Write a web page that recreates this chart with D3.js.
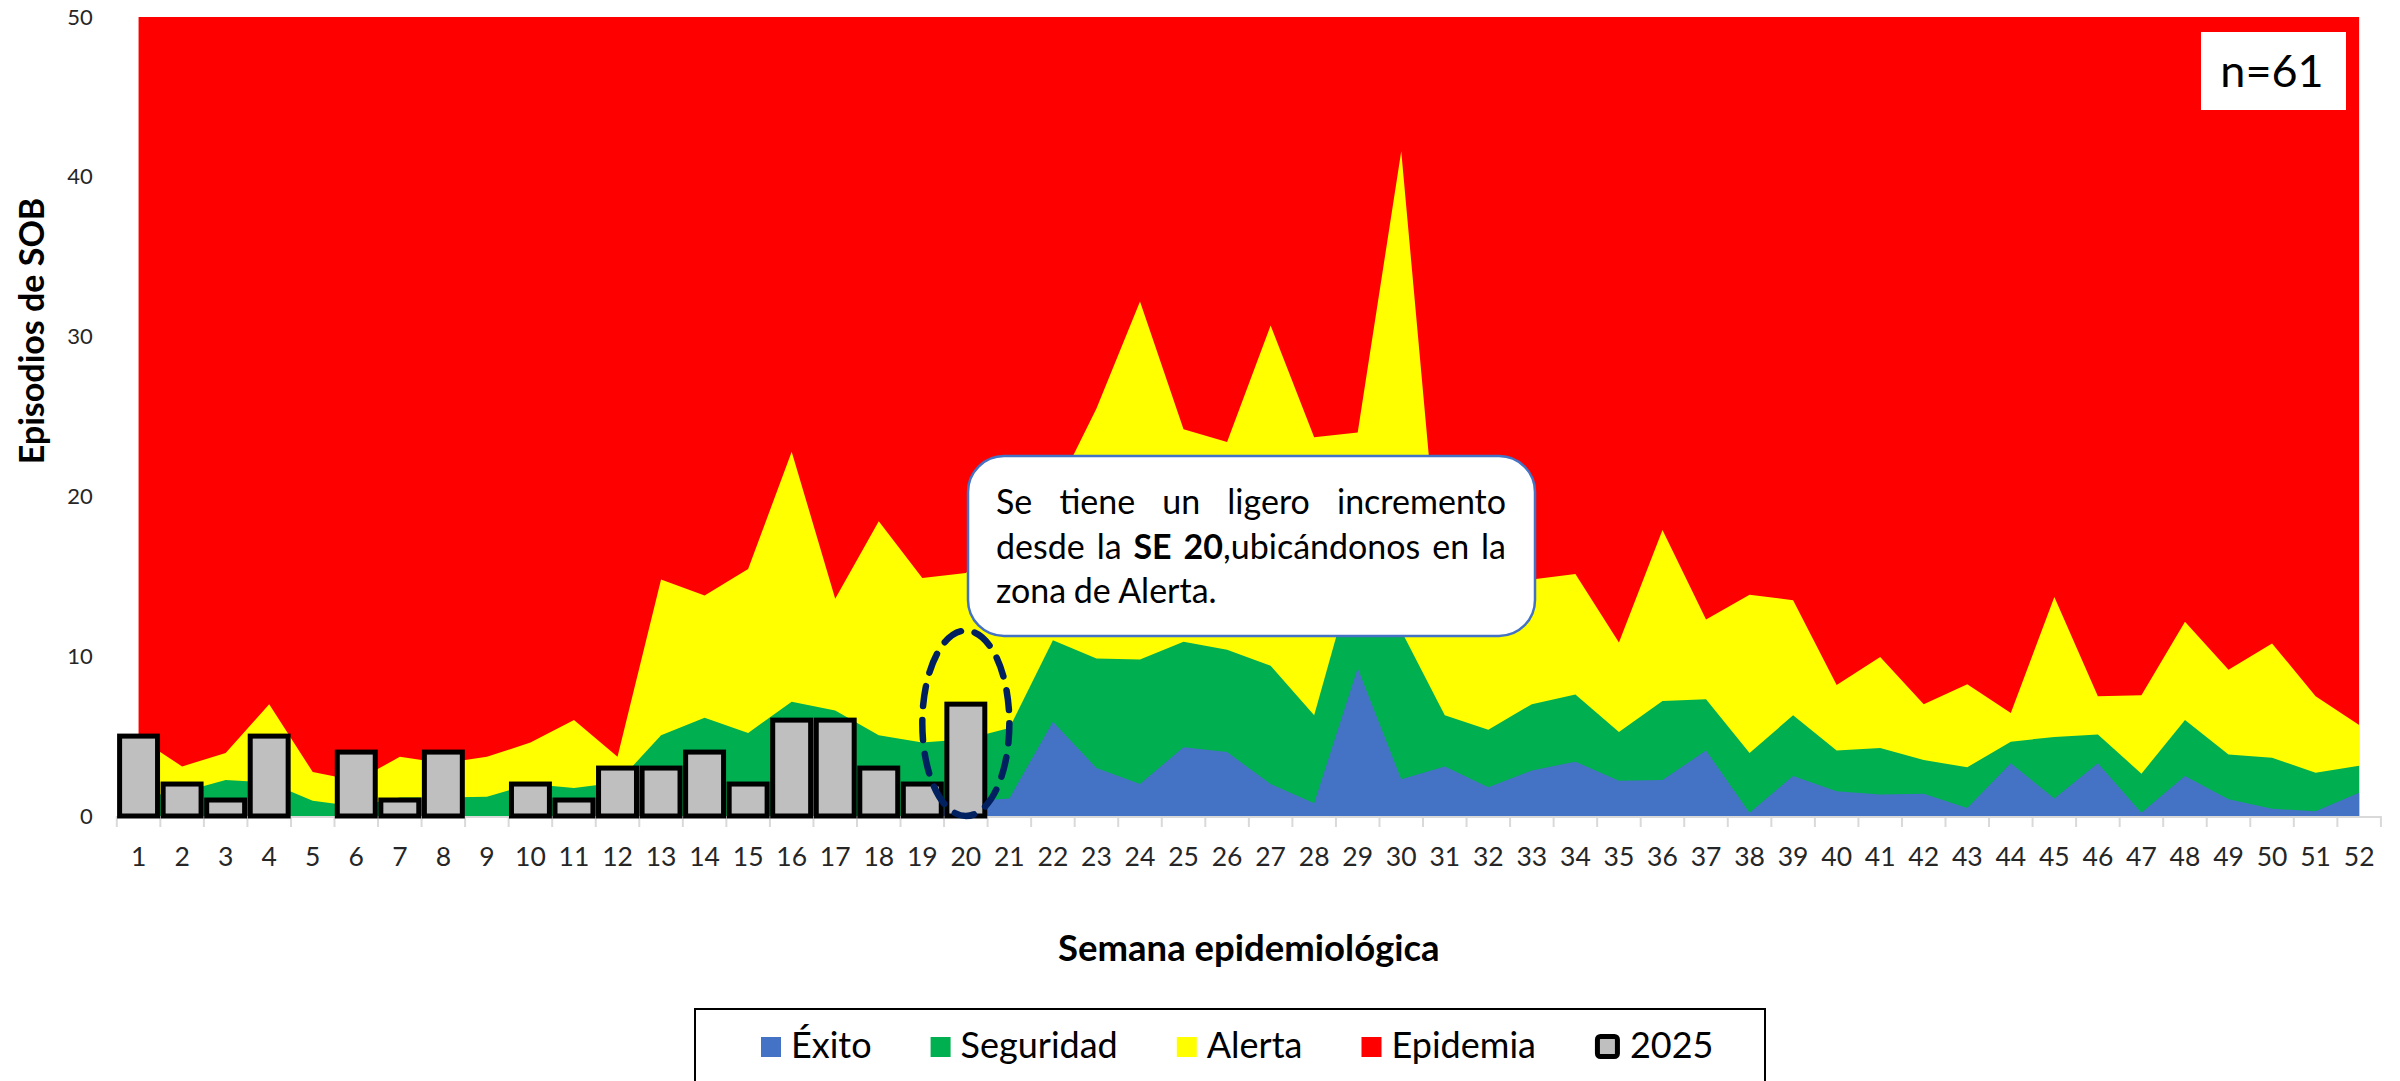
<!DOCTYPE html>
<html>
<head>
<meta charset="utf-8">
<script src="https://cdn.jsdelivr.net/npm/d3@7"></script>
<style>
  html, body { margin: 0; padding: 0; background: #ffffff; }
  svg { display: block; }
  text { font-family: Lato, "Open Sans", sans-serif; }
</style>
</head>
<body>
<svg id="chart" width="2400" height="1081"></svg>
<script>
// ---------------- DATA ----------------
const weeks = [1,2,3,4,5,6,7,8,9,10,11,12,13,14,15,16,17,18,19,20,21,22,23,24,25,26,
               27,28,29,30,31,32,33,34,35,36,37,38,39,40,41,42,43,44,45,46,47,48,49,50,51,52];

// Upper limit of the "Éxito" zone (blue)
const exitoLimit = [0,0,0,0,0,0,0,0,0,0,0,0,0,0,0,0,0,0,0,0.9,
                    1.1,5.9,3.0,2.0,4.3,4.0,2.0,0.8,9.25,2.3,3.1,1.8,2.85,3.4,2.2,2.25,
                    4.1,0.2,2.5,1.55,1.35,1.4,0.5,3.3,1.1,3.3,0.2,2.5,1.05,0.45,0.3,1.45];

// Upper limit of the "Seguridad" zone (green)
const seguridadLimit = [1.2,1.5,2.25,2.1,0.95,0.6,1.15,1.15,1.2,2.0,1.75,2.1,5.05,6.15,5.2,7.15,
                        6.6,5.05,4.6,4.8,5.5,11.0,9.85,9.8,10.9,10.4,9.4,6.3,16.0,11.6,6.3,5.4,
                        7.0,7.6,5.25,7.2,7.3,3.95,6.3,4.1,4.25,3.5,3.05,4.65,4.95,5.1,2.65,6.0,
                        3.85,3.65,2.7,3.15];

// Upper limit of the "Alerta" zone (yellow)
const alertaLimit = [4.9,3.1,3.95,7.0,2.75,2.2,3.7,3.3,3.7,4.6,6.0,3.7,14.8,13.8,15.45,22.8,
                     13.6,18.45,14.9,15.2,17.5,20.0,25.5,32.2,24.2,23.4,30.7,23.7,24.0,41.6,
                     11.5,13.0,14.8,15.15,10.85,17.9,12.3,13.85,13.5,8.2,9.95,7.0,8.25,6.45,
                     13.7,7.5,7.55,12.15,9.15,10.8,7.5,5.7];

// 2025 cases (weeks 1..20)
const weeks2025 = [1,2,3,4,5,6,7,8,9,10,11,12,13,14,15,16,17,18,19,20];
const cases2025 = [5,2,1,5,0,4,1,4,0,2,1,3,3,4,2,6,6,3,2,7];

const yTickValues = [0,10,20,30,40,50];

const zoneNames  = ["Éxito","Seguridad","Alerta","Epidemia"];
const zoneColors = ["#4472C4","#00B050","#FFFF00","#FF0000"];
const barLabel = "2025";

const xTitle = "Semana epidemiológica";
const yTitle = "Episodios de SOB";
const nLabel = "n=61";
const highlightWeek = 20;

// ---------------- SCALES ----------------
const svg = d3.select("#chart");
const x = d3.scaleBand().domain(weeks).range([116.8, 2380.9]).padding(0);
const xc = w => x(w) + x.bandwidth() / 2;
const yMax = yTickValues[yTickValues.length - 1];
const y = d3.scaleLinear().domain([0, yMax]).range([816, 17]);

// ---------------- AREAS (layered) ----------------
const epidemiaTop = weeks.map(() => yMax);
const layers = [
  { top: epidemiaTop,    color: zoneColors[3] },
  { top: alertaLimit,    color: zoneColors[2] },
  { top: seguridadLimit, color: zoneColors[1] },
  { top: exitoLimit,     color: zoneColors[0] }
];
const area = d3.area()
  .x((d, i) => xc(weeks[i]))
  .y0(y(0))
  .y1(d => y(d));
svg.append("g").selectAll("path").data(layers).join("path")
  .attr("d", d => area(d.top))
  .attr("fill", d => d.color)
  .attr("stroke", "none");

// ---------------- X AXIS LINE + TICKS ----------------
const axisG = svg.append("g");
axisG.append("line")
  .attr("x1", x.range()[0]).attr("x2", x.range()[1])
  .attr("y1", y(0) + 1).attr("y2", y(0) + 1)
  .attr("stroke", "#d9d9d9").attr("stroke-width", 2);
const boundaries = weeks.map(w => x(w)).concat([x.range()[1]]);
axisG.selectAll("line.tk").data(boundaries).join("line")
  .attr("class", "tk")
  .attr("x1", d => d).attr("x2", d => d)
  .attr("y1", y(0)).attr("y2", y(0) + 11)
  .attr("stroke", "#d9d9d9").attr("stroke-width", 2);

// ---------------- BARS 2025 ----------------
const barData = weeks2025.map((w, i) => ({ w, v: cases2025[i] })).filter(d => d.v > 0);
const inset = 2.8;
svg.append("g").selectAll("rect").data(barData).join("rect")
  .attr("x", d => x(d.w) + inset)
  .attr("width", x.bandwidth() - 2 * inset)
  .attr("y", d => y(d.v))
  .attr("height", d => y(0) - y(d.v))
  .attr("fill", "#BFBFBF")
  .attr("stroke", "#000")
  .attr("stroke-width", 5);

// ---------------- AXES LABELS ----------------
const xAxis = svg.append("g")
  .attr("transform", `translate(0,${y(0)})`)
  .call(d3.axisBottom(x).tickSize(0).tickPadding(31));
xAxis.select(".domain").remove();
xAxis.selectAll("text").attr("font-size", 26.5).attr("fill", "#262626")
  .style("font-family", "Lato, sans-serif");

const yAxis = svg.append("g")
  .attr("transform", `translate(${x.range()[0]},0)`)
  .call(d3.axisLeft(y).tickValues(yTickValues).tickSize(0).tickPadding(24));
yAxis.select(".domain").remove();
yAxis.selectAll("text").attr("font-size", 22).attr("fill", "#262626")
  .style("font-family", "Lato, sans-serif");

svg.append("text")
  .attr("transform", `translate(44,331) rotate(-90)`)
  .attr("text-anchor", "middle")
  .attr("font-size", 34).attr("font-weight", "bold").attr("fill", "#000")
  .text(yTitle);

svg.append("text")
  .attr("x", (x.range()[0] + x.range()[1]) / 2).attr("y", 961)
  .attr("text-anchor", "middle")
  .attr("font-size", 36.5).attr("font-weight", "bold").attr("fill", "#000")
  .text(xTitle);

// ---------------- n=61 BOX ----------------
svg.append("rect").attr("x", 2201).attr("y", 32).attr("width", 145).attr("height", 78)
  .attr("fill", "#fff");
svg.append("text").attr("x", 2272).attr("y", 87).attr("text-anchor", "middle")
  .attr("font-size", 45).attr("fill", "#000").text(nLabel);

// ---------------- CALLOUT ----------------
const callout = svg.append("g");
callout.append("rect")
  .attr("x", 968).attr("y", 456).attr("width", 567).attr("height", 180)
  .attr("rx", 36).attr("ry", 36)
  .attr("fill", "#fff").attr("stroke", "#4472C4").attr("stroke-width", 2.5);

const calloutLines = [
  { justify: true,  words: [[["Se",0]],[["tiene",0]],[["un",0]],[["ligero",0]],[["incremento",0]]] },
  { justify: true,  words: [[["desde",0]],[["la",0]],[["SE",1]],[["20",1],[",ubicándonos",0]],[["en",0]],[["la",0]]] },
  { justify: false, words: [[["zona",0]],[["de",0]],[["Alerta.",0]]] }
];
const cx0 = 996, cx1 = 1506, baselines = [514, 559, 603], cfs = 34;
calloutLines.forEach((line, li) => {
  const texts = line.words.map(word => {
    const t = callout.append("text").attr("y", baselines[li]).attr("font-size", cfs).attr("fill", "#000");
    word.forEach(([s, b]) => t.append("tspan").attr("font-weight", b ? "bold" : "normal").text(s));
    return t;
  });
  const widths = texts.map(t => t.node().getComputedTextLength());
  const total = d3.sum(widths);
  const natural = cfs * 0.22;
  const space = line.justify ? Math.max(natural * 0.6, (cx1 - cx0 - total) / (texts.length - 1)) : natural;
  let cur = cx0;
  texts.forEach((t, i) => { t.attr("x", cur); cur += widths[i] + space; });
});

// ---------------- HIGHLIGHT ELLIPSE ----------------
svg.append("ellipse")
  .attr("cx", xc(highlightWeek))
  .attr("cy", (y(0) + y(11.6)) / 2)
  .attr("rx", x.bandwidth())
  .attr("ry", (y(0) - y(11.6)) / 2)
  .attr("fill", "none").attr("stroke", "#002060").attr("stroke-width", 6.5)
  .attr("stroke-linecap", "round")
  .attr("stroke-dasharray", "20 14");

// ---------------- LEGEND ----------------
svg.append("rect").attr("x", 695).attr("y", 1009).attr("width", 1070).attr("height", 100)
  .attr("fill", "#fff").attr("stroke", "#000").attr("stroke-width", 2);
const legendItems = zoneNames.map((n, i) => ({ label: n, color: zoneColors[i], bar: false }))
  .concat([{ label: barLabel, bar: true }]);
let lx = 761;
const lg = svg.append("g");
legendItems.forEach(it => {
  if (it.bar) {
    lg.append("rect").attr("x", lx + 2.5).attr("y", 1036.5).attr("width", 20).attr("height", 20)
      .attr("rx", 3).attr("fill", "#BFBFBF").attr("stroke", "#000").attr("stroke-width", 5);
  } else {
    lg.append("rect").attr("x", lx).attr("y", 1037).attr("width", 20).attr("height", 20)
      .attr("fill", it.color);
  }
  const tx = lx + (it.bar ? 35 : 30);
  const t = lg.append("text").attr("x", tx).attr("y", 1058).attr("font-size", 36)
    .attr("fill", "#000").text(it.label);
  lx = tx + t.node().getComputedTextLength() + 59;
});
</script>
</body>
</html>
